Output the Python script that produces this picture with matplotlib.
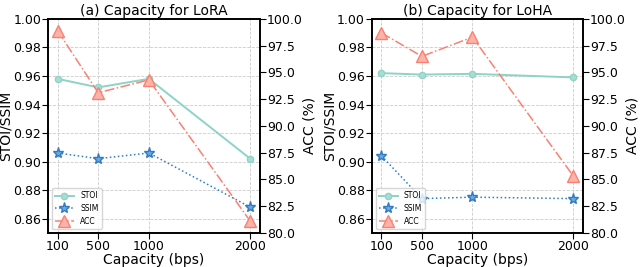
import matplotlib.pyplot as plt

capacity = [100, 500, 1000, 2000]

lora_stoi = [0.958, 0.952, 0.958, 0.902]
lora_ssim = [0.906, 0.902, 0.906, 0.868]
lora_acc = [98.9, 93.1, 94.3, 81.1]

loha_stoi = [0.962, 0.961, 0.9615, 0.959]
loha_ssim = [0.904, 0.874, 0.875, 0.874]
loha_acc = [98.7, 96.5, 98.3, 85.3]

titles = ["(a) Capacity for LoRA", "(b) Capacity for LoHA"]

c_stoi = "#8dd3c7"
c_ssim = "#2f7bc4"
c_acc = "#fb8072"

fig = plt.figure(figsize=(6.4, 2.67), dpi=100)
positions = [[0.075, 0.128, 0.331, 0.801], [0.581, 0.128, 0.330, 0.801]]

panels = [(lora_stoi, lora_ssim, lora_acc), (loha_stoi, loha_ssim, loha_acc)]

for i, (stoi, ssim, acc) in enumerate(panels):
    ax = fig.add_axes(positions[i])
    ax2 = ax.twinx()

    l1, = ax.plot(capacity, stoi, color=c_stoi, marker="o", markersize=4.5,
                  markerfacecolor="#a9ddd4", linestyle="-", linewidth=1.4,
                  label="STOI")
    l2, = ax.plot(capacity, ssim, color=c_ssim, marker="*", markersize=8,
                  markerfacecolor="#6fa6dc", linestyle=":", linewidth=1.1,
                  label="SSIM")
    l3, = ax2.plot(capacity, acc, color=c_acc, marker="^", markersize=9,
                   markerfacecolor="#fcb3aa", linestyle="-.", linewidth=1.1,
                   label="ACC")

    ax.set_ylim(0.85, 1.00)
    ax.set_yticks([0.86, 0.88, 0.90, 0.92, 0.94, 0.96, 0.98, 1.00])
    ax2.set_ylim(80, 100)
    ax2.set_yticks([80, 82.5, 85, 87.5, 90, 92.5, 95, 97.5, 100])
    ax.set_xticks(capacity)
    ax.grid(True, linestyle="--", color="#cccccc", linewidth=0.6)

    ax.set_xlabel("Capacity (bps)", fontsize=10, labelpad=0.5)
    ax.set_ylabel("STOI/SSIM", fontsize=10, labelpad=0)
    ax2.set_ylabel("ACC (%)", fontsize=10, labelpad=0)
    ax.set_title(titles[i], fontsize=10, pad=3)

    for a in (ax, ax2):
        a.tick_params(labelsize=9, pad=1, length=4)
        for s in a.spines.values():
            s.set_linewidth(1.2)

    ax.legend(handles=[l1, l2, l3], loc="lower left", fontsize=5.5,
              handlelength=2.5, borderpad=0.4, labelspacing=0.5)

plt.savefig("out.png", dpi=100)
